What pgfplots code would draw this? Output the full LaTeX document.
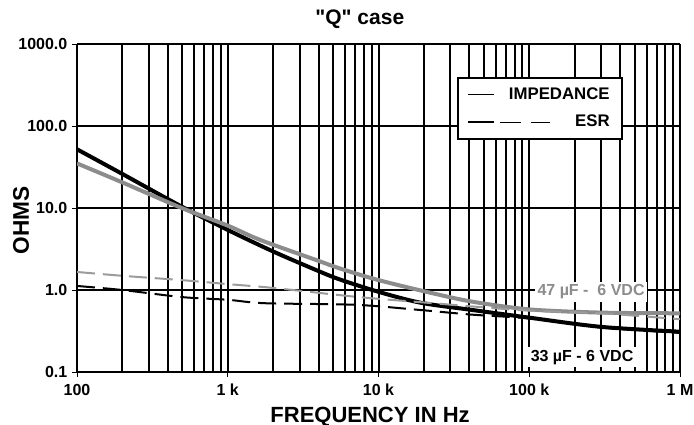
\documentclass[border=0pt]{standalone}
\usepackage{fontspec}
\setmainfont{Liberation Sans}[Ligatures=TeXOff]
\usepackage{pgfplots}
\pgfplotsset{compat=1.18}
\definecolor{gsolid}{RGB}{140,140,140}
\definecolor{gdash}{RGB}{155,155,155}
\begin{document}
\begin{tikzpicture}
\begin{axis}[
  at={(0,0)}, anchor=south west,
  scale only axis, width=452.25pt, height=246pt,
  xmode=log, ymode=log,
  xmin=100, xmax=1000000, ymin=0.1, ymax=1000,
  xtick={100,1000,10000,100000,1000000},
  xticklabels={100,1 k,10 k,100 k,1 M},
  minor xtick={200,300,400,500,600,700,800,900,2000,3000,4000,5000,6000,7000,8000,9000,20000,30000,40000,50000,60000,70000,80000,90000,200000,300000,400000,500000,600000,700000,800000,900000},
  ytick={0.1,1,10,100,1000},
  yticklabels={0.1,1.0,10.0,100.0,1000.0},
  minor ytick={},
  xmajorgrids=true, xminorgrids=true, ymajorgrids=true,
  grid style={black, line width=1.5pt},
  minor grid style={black, line width=1.5pt},
  axis line style={black, line width=0.75pt},
  tick align=outside, xtick pos=bottom, ytick pos=left,
  major tick length=3.75pt, minor tick length=0pt,
  tick style={black, line width=0.75pt},
  ticklabel style={font=\bfseries\fontsize{12}{14}\selectfont},
  xticklabel style={yshift=-2pt},
  title={"Q" case},
  title style={font=\bfseries\fontsize{15.75}{18}\selectfont, at={(axis description cs:0.469,1)}, anchor=base, yshift=8.5pt},
  xlabel={FREQUENCY IN Hz},
  every axis x label/.style={font=\bfseries\fontsize{16.5}{19}\selectfont, at={(axis description cs:0.486,0)}, anchor=base, yshift=-37.5pt},
  ylabel={OHMS},
  every axis y label/.style={font=\bfseries\fontsize{17}{19}\selectfont, at={(axis description cs:-0.08,0.462)}, rotate=90, anchor=base},
  legend style={at={(rel axis cs:0.630,0.899)}, anchor=north west, draw=black, line width=1.5pt, fill=white,
    font=\bfseries\fontsize{12.6}{15}\selectfont, inner xsep=7pt, inner ysep=5.5pt, row sep=6pt,
    /tikz/every odd column/.append style={column sep=8.25pt}},
  legend cell align=right,
]
% 33 uF impedance (black)
\addplot[black, line width=3pt, smooth, forget plot] coordinates {
 (100,52) (200,26) (495,10.4) (1000,5.4) (2000,2.95) (3860,1.75) (5500,1.35) (10000,0.95)
 (19000,0.70) (42000,0.57) (100000,0.46) (300000,0.355) (1000000,0.31)};
% 47 uF impedance (gray)
\addplot[gsolid, line width=3pt, smooth, forget plot] coordinates {
 (100,35) (200,20.5) (495,10) (1000,6.1) (1630,4.1) (3860,2.32) (5500,1.84) (10000,1.32)
 (23000,0.91) (42000,0.72) (100000,0.58) (300000,0.53) (1000000,0.52)};
% 47 uF ESR (gray dashed)
\addplot[gdash, line width=1.5pt, dash pattern=on 13.5pt off 6pt, smooth, forget plot] coordinates {
 (100,1.66) (200,1.49) (495,1.32) (1000,1.18) (2000,1.06) (7400,0.82) (23000,0.69)
 (42000,0.63) (100000,0.56) (300000,0.52) (1000000,0.44)};
% 33 uF ESR (black dashed)
\addplot[black, line width=1.5pt, dash pattern=on 13.5pt off 6pt, smooth, forget plot] coordinates {
 (100,1.12) (200,1.0) (495,0.82) (1000,0.76) (1760,0.69) (7000,0.66) (19000,0.57)
 (42000,0.50) (100000,0.45) (300000,0.35) (1000000,0.30)};
\addlegendimage{legend image code/.code={\draw[black, line width=0.75pt] (0pt,0pt) -- (19.5pt,0pt);}}
\addlegendentry{\textbf{IMPEDANCE}}
\addlegendimage{legend image code/.code={\path (0pt,0pt) -- (19.5pt,0pt); \draw[overlay, black, line width=0.75pt, dash pattern=on 16.3pt off 7.3pt] (0pt,0pt) -- (61.5pt,0pt);}}
\addlegendentry{\textbf{ESR}}
\node[fill=white, text=gsolid, inner sep=2pt, font=\bfseries\fontsize{12}{14}\selectfont] at (axis cs:257000,0.946) {47 µF -\ \ 6 VDC};
\node[fill=white, text=black, inner sep=2pt, font=\bfseries\fontsize{12}{14}\selectfont] at (axis cs:224000,0.152) {33 µF - 6 VDC};
\end{axis}
\pgfresetboundingbox
\path (-57.75pt,-39.75pt) rectangle (462.75pt,279pt);
\end{tikzpicture}
\end{document}
